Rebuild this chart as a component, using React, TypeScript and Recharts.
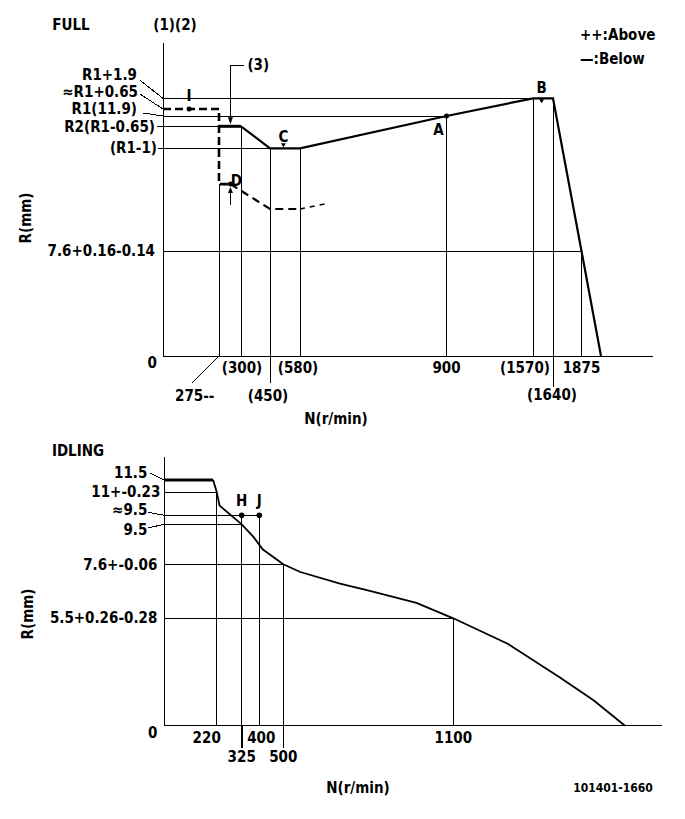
import React from "react";
import { ComposedChart, Line, XAxis, YAxis, ReferenceLine, ReferenceDot } from "recharts";

const FONT = '"DejaVu Sans Condensed", "Liberation Sans Narrow", "DejaVu Sans", sans-serif';
const FS = 15;

// ---------- FULL (upper diagram) ----------
const FULL_N_TICKS = [275, 300, 450, 580, 900, 1570, 1640, 1875];
const FULL_N_LABELS = ["275--", "(300)", "(450)", "(580)", "900", "(1570)", "(1640)", "1875"];
const FULL_R_TICKS = [13.8, 12.55, 11.9, 11.25, 10.9, 7.6, 0];
const FULL_R_LABELS = ["R1+1.9", "≈R1+0.65", "R1(11.9)", "R2(R1-0.65)", "(R1-1)", "7.6+0.16-0.14", "0"];

// solid = Below
const FULL_PLATEAU_N = [275, 300];
const FULL_PLATEAU_R = [11.25, 11.25];
const FULL_BELOW_N = [300, 450, 580, 900, 1570, 1640, 1875, 1950];
const FULL_BELOW_R = [11.25, 10.9, 10.9, 11.9, 13.8, 13.8, 7.6, 0];
// dashed = Above
const FULL_ABOVE_N = [0, 275, 275, 288];
const FULL_ABOVE_R = [12.55, 12.55, 9.75, 9.75];
const FULL_ABOVE2_N = [288, 450, 580];
const FULL_ABOVE2_R = [9.75, 8.95, 8.95];
const FULL_ABOVE3_N = [580, 643];
const FULL_ABOVE3_R = [8.95, 9.14];

// guide lines
const FULL_HGUIDE_R = [13.8, 11.9, 11.25, 10.9, 7.6];
const FULL_HGUIDE_TO = [1570, 900, 275, 450, 1875];
const FULL_VGUIDE_N = [275, 300, 450, 580, 900, 1570, 1640, 1875];
const FULL_VGUIDE_TOP = [9.75, 11.25, 10.9, 10.9, 11.9, 13.8, 13.8, 7.6];

// measuring points
const FULL_PT_NAMES = ["I", "C", "A", "B", "D"];
const FULL_PT_N = [128, 508, 900, 1600, 288];
const FULL_PT_R = [12.55, 10.9, 11.9, 13.8, 9.75];

// ---------- IDLING (lower diagram) ----------
const IDLE_N_TICKS = [220, 325, 400, 500, 1100];
const IDLE_N_LABELS = ["220", "325", "400", "500", "1100"];
const IDLE_R_TICKS = [11.5, 11, 9.8, 9.5, 7.6, 5.5, 0];
const IDLE_R_LABELS = ["11.5", "11+-0.23", "≈9.5", "9.5", "7.6+-0.06", "5.5+0.26-0.28", "0"];

const IDLE_PLATEAU_N = [0, 205];
const IDLE_PLATEAU_R = [11.5, 11.5];
const IDLE_CURVE_N = [205, 220, 232, 325, 375, 415, 500, 560, 700, 795, 970, 1100, 1290, 1470, 1590, 1700];
const IDLE_CURVE_R = [11.5, 11, 10.3, 9.5, 8.9, 8.3, 7.6, 7.3, 6.85, 6.6, 6.1, 5.5, 4.2, 2.5, 1.3, 0];

const IDLE_HGUIDE_R = [11, 9.8, 9.5, 7.6, 5.5];
const IDLE_HGUIDE_TO = [220, 400, 325, 500, 1100];
const IDLE_VGUIDE_N = [220, 325, 400, 500, 1100];
const IDLE_VGUIDE_TOP = [11, 9.8, 9.8, 7.6, 5.5];

const IDLE_PT_NAMES = ["H", "J"];
const IDLE_PT_N = [325, 400];
const IDLE_PT_R = [9.8, 9.8];

// ---------- schematic (not to scale) axes: knots -> plot units ----------
const FULL_N_KNOTS = [0, 275, 300, 450, 580, 900, 1570, 1640, 1875, 1950, 2150];
const FULL_X_AT = [0, 56, 78, 107, 137, 283.5, 370, 390, 418.5, 438, 490];
const FULL_R_KNOTS = [0, 7.6, 10.9, 11.25, 11.9, 12.55, 13.8, 16];
const FULL_Y_AT = [0, 105, 207.7, 229.7, 240, 247, 257.7, 313];

const IDLE_N_KNOTS = [0, 220, 325, 400, 500, 1100, 1700, 1800];
const IDLE_X_AT = [0, 52.4, 77.4, 95, 119, 289, 460.7, 497.7];
const IDLE_R_KNOTS = [0, 5.5, 7.6, 9.5, 9.8, 11, 11.5, 13];
const IDLE_Y_AT = [0, 107.4, 161.4, 201.4, 210.4, 233.7, 245.7, 268.7];

// label placement (offsets from tick position)
const FULL_X_LAYOUT = [
  { dx: -44, dy: 40, anchor: "start", lead: [-27, 27] },
  { dx: 1, dy: 12 },
  { dx: -2, dy: 40, lead: [0, 27] },
  { dx: -2, dy: 12 },
  { dx: 0, dy: 12 },
  { dx: -8, dy: 12 },
  { dx: -1, dy: 39, lead: [0, 31] },
  { dx: 0, dy: 12 },
];
const FULL_Y_LAYOUT = [
  { dx: -26, dy: -23, lead: [-23, -18] },
  { dx: -25, dy: -17, lead: [-23, -15] },
  { dx: -26, dy: -7.5, lead: [-20, -3] },
  { dx: -8, dy: 0.5, lead: [-6, 0] },
  { dx: -6, dy: 0, lead: [-5, 0] },
  { dx: -8, dy: 0 },
  { dx: -6, dy: 7 },
];
const IDLE_X_LAYOUT = [
  { dx: -10, dy: 12 },
  { dx: 0, dy: 31, lead: [0, 22], leadW: 2 },
  { dx: 2, dy: 12 },
  { dx: 0, dy: 31, lead: [0, 22] },
  { dx: 0, dy: 12 },
];
const IDLE_Y_LAYOUT = [
  { dx: -17, dy: -7, lead: [-14, -7] },
  { dx: -4, dy: 0 },
  { dx: -17, dy: -5, lead: [-16, -3] },
  { dx: -17, dy: 6, lead: [-16, 3.5] },
  { dx: -7, dy: 1 },
  { dx: -7, dy: 0 },
  { dx: -7, dy: 7 },
];

function piecewise(from: number[], to: number[]) {
  return (v: number) => {
    let i = 0;
    while (i < from.length - 2 && v > from[i + 1]) i++;
    const t = (v - from[i]) / (from[i + 1] - from[i]);
    return to[i] + t * (to[i + 1] - to[i]);
  };
}

const fx = piecewise(FULL_N_KNOTS, FULL_X_AT);
const fy = piecewise(FULL_R_KNOTS, FULL_Y_AT);
const ix = piecewise(IDLE_N_KNOTS, IDLE_X_AT);
const iy = piecewise(IDLE_R_KNOTS, IDLE_Y_AT);

function toXY(ns: number[], rs: number[], sx: (v: number) => number, sy: (v: number) => number) {
  return ns.map((n, i) => ({ x: sx(n), y: sy(rs[i]) }));
}

const txt = (x: number, y: number, s: string, anchor = "middle", size = FS) => (
  <text x={x} y={y} textAnchor={anchor} dominantBaseline="central" fontFamily={FONT} fontSize={size} fontWeight="bold" fill="#000">
    {s}
  </text>
);

function makeXTick(labels: string[], layout: any[]) {
  return (p: any) => {
    const i = p.index;
    const l = layout[i] || { dx: 0, dy: 12 };
    return (
      <g>
        {l.lead && <line x1={p.x} y1={p.y} x2={p.x + l.lead[0]} y2={p.y + l.lead[1]} stroke="#000" strokeWidth={l.leadW || 1} />}
        {txt(p.x + l.dx, p.y + l.dy, labels[i], l.anchor || "middle")}
      </g>
    );
  };
}

function makeYTick(labels: string[], layout: any[]) {
  return (p: any) => {
    const i = p.index;
    const l = layout[i] || { dx: -6, dy: 0 };
    return (
      <g>
        {l.lead && <line x1={p.x} y1={p.y} x2={p.x + l.lead[0]} y2={p.y + l.lead[1]} stroke="#000" strokeWidth={1} />}
        {txt(p.x + l.dx, p.y + l.dy, labels[i], "end")}
      </g>
    );
  };
}

function fullMarker(name: string) {
  return (p: any) => {
    const { cx, cy } = p;
    if (name === "I") return <g><circle cx={cx} cy={cy} r={2.5} fill="#000" />{txt(cx, cy - 13, "I")}</g>;
    if (name === "A") return <g><circle cx={cx} cy={cy} r={2.5} fill="#000" />{txt(cx - 8, cy + 14, "A")}</g>;
    if (name === "C")
      return <g><path d={`M${cx - 2.5},${cy - 5} L${cx + 2.5},${cy - 5} L${cx},${cy - 1} Z`} fill="#000" />{txt(cx, cy - 11, "C")}</g>;
    if (name === "B")
      return <g><path d={`M${cx - 2.5},${cy + 1} L${cx + 2.5},${cy + 1} L${cx},${cy + 5} Z`} fill="#000" />{txt(cx, cy - 10, "B")}</g>;
    // D with arrow from below
    return (
      <g>
        <circle cx={cx} cy={cy} r={2.5} fill="#000" />
        <line x1={cx} y1={cy + 21} x2={cx} y2={cy + 6} stroke="#000" strokeWidth={1} />
        <path d={`M${cx - 2.5},${cy + 9} L${cx + 2.5},${cy + 9} L${cx},${cy + 3} Z`} fill="#000" />
        {txt(cx + 6, cy - 3, "D")}
      </g>
    );
  };
}

const arrow3 = (p: any) => {
  const { cx, cy } = p;
  return (
    <g>
      <line x1={cx} y1={cy - 61} x2={cx} y2={cy - 6} stroke="#000" strokeWidth={1} />
      <line x1={cx} y1={cy - 61} x2={cx + 14} y2={cy - 61} stroke="#000" strokeWidth={1} />
      <path d={`M${cx - 2.5},${cy - 9} L${cx + 2.5},${cy - 9} L${cx},${cy - 2} Z`} fill="#000" />
      {txt(cx + 17, cy - 61, "(3)", "start")}
    </g>
  );
};

const idleMarker = (name: string) => (p: any) => (
  <g>
    <circle cx={p.cx} cy={p.cy} r={2.8} fill="#000" />
    {txt(p.cx, p.cy - 14, name)}
  </g>
);

function FullChart() {
  return (
    <ComposedChart width={685} height={430} margin={{ top: 43, right: 32, bottom: 54, left: 123 }}>
      <XAxis type="number" dataKey="x" domain={[0, 490]} ticks={FULL_N_TICKS.map(fx)} interval={0} height={20}
        tickLine={false} tickSize={0} tickMargin={0} axisLine={{ stroke: "#000" }} tick={makeXTick(FULL_N_LABELS, FULL_X_LAYOUT)} />
      <YAxis type="number" dataKey="y" domain={[0, 313]} ticks={FULL_R_TICKS.map(fy)} interval={0} width={40}
        tickLine={false} tickSize={0} tickMargin={0} axisLine={{ stroke: "#000" }} tick={makeYTick(FULL_R_LABELS, FULL_Y_LAYOUT)} />
      {FULL_HGUIDE_R.map((r, i) => (
        <ReferenceLine key={"h" + i} segment={[{ x: 0, y: fy(r) }, { x: fx(FULL_HGUIDE_TO[i]), y: fy(r) }]} stroke="#000" strokeWidth={1} ifOverflow="visible" />
      ))}
      {FULL_VGUIDE_N.map((n, i) => (
        <ReferenceLine key={"v" + i} segment={[{ x: fx(n), y: 0 }, { x: fx(n), y: fy(FULL_VGUIDE_TOP[i]) }]} stroke="#000" strokeWidth={1} ifOverflow="visible" />
      ))}
      <Line data={toXY(FULL_ABOVE_N, FULL_ABOVE_R, fx, fy)} dataKey="y" type="linear" stroke="#000" strokeWidth={2.6} strokeDasharray="8 4" dot={false} isAnimationActive={false} />
      <Line data={toXY(FULL_ABOVE2_N, FULL_ABOVE2_R, fx, fy)} dataKey="y" type="linear" stroke="#000" strokeWidth={2.2} strokeDasharray="8 5" dot={false} isAnimationActive={false} />
      <Line data={toXY(FULL_ABOVE3_N, FULL_ABOVE3_R, fx, fy)} dataKey="y" type="linear" stroke="#000" strokeWidth={1.4} strokeDasharray="5 5" dot={false} isAnimationActive={false} />
      <Line data={toXY(FULL_PLATEAU_N, FULL_PLATEAU_R, fx, fy)} dataKey="y" type="linear" stroke="#000" strokeWidth={3} dot={false} isAnimationActive={false} />
      <Line data={toXY(FULL_BELOW_N, FULL_BELOW_R, fx, fy)} dataKey="y" type="linear" stroke="#000" strokeWidth={2.2} dot={false} isAnimationActive={false} />
      <ReferenceDot x={fx(288)} y={fy(11.25)} r={0} shape={arrow3} ifOverflow="visible" />
      {FULL_PT_NAMES.map((name, i) => (
        <ReferenceDot key={name} x={fx(FULL_PT_N[i])} y={fy(FULL_PT_R[i])} r={2.5} shape={fullMarker(name)} ifOverflow="visible" />
      ))}
    </ComposedChart>
  );
}

function IdleChart() {
  return (
    <ComposedChart width={685} height={389} margin={{ top: 27, right: 23, bottom: 73.3, left: 124.3 }}>
      <XAxis type="number" dataKey="x" domain={[0, 497.7]} ticks={IDLE_N_TICKS.map(ix)} interval={0} height={20}
        tickLine={false} tickSize={0} tickMargin={0} axisLine={{ stroke: "#000" }} tick={makeXTick(IDLE_N_LABELS, IDLE_X_LAYOUT)} />
      <YAxis type="number" dataKey="y" domain={[0, 268.7]} ticks={IDLE_R_TICKS.map(iy)} interval={0} width={40}
        tickLine={false} tickSize={0} tickMargin={0} axisLine={{ stroke: "#000" }} tick={makeYTick(IDLE_R_LABELS, IDLE_Y_LAYOUT)} />
      {IDLE_HGUIDE_R.map((r, i) => (
        <ReferenceLine key={"h" + i} segment={[{ x: 0, y: iy(r) }, { x: ix(IDLE_HGUIDE_TO[i]), y: iy(r) }]} stroke="#000" strokeWidth={1} ifOverflow="visible" />
      ))}
      {IDLE_VGUIDE_N.map((n, i) => (
        <ReferenceLine key={"v" + i} segment={[{ x: ix(n), y: 0 }, { x: ix(n), y: iy(IDLE_VGUIDE_TOP[i]) }]} stroke="#000" strokeWidth={1} ifOverflow="visible" />
      ))}
      <Line data={toXY(IDLE_PLATEAU_N, IDLE_PLATEAU_R, ix, iy)} dataKey="y" type="linear" stroke="#000" strokeWidth={3} dot={false} isAnimationActive={false} />
      <Line data={toXY(IDLE_CURVE_N, IDLE_CURVE_R, ix, iy)} dataKey="y" type="linear" stroke="#000" strokeWidth={1.8} dot={false} isAnimationActive={false} />
      {IDLE_PT_NAMES.map((name, i) => (
        <ReferenceDot key={name} x={ix(IDLE_PT_N[i])} y={iy(IDLE_PT_R[i])} r={2.8} shape={idleMarker(name)} ifOverflow="visible" />
      ))}
    </ComposedChart>
  );
}

export default function App() {
  return (
    <div style={{ position: "absolute", left: 0, top: 0, width: 685, height: 819, background: "#fff" }}>
      <style>{"svg line{shape-rendering:crispEdges}"}</style>
      <div style={{ position: "absolute", left: 0, top: 0 }}>
        <FullChart />
      </div>
      <div style={{ position: "absolute", left: 0, top: 430 }}>
        <IdleChart />
      </div>
      <svg width={685} height={819} style={{ position: "absolute", left: 0, top: 0, pointerEvents: "none" }}>
        {txt(71, 25, "FULL")}
        {txt(175, 25, "(1)(2)")}
        {txt(580, 35, "++:Above", "start")}
        {txt(580, 59, "—:Below", "start")}
        {txt(336, 419, "N(r/min)")}
        <g transform="translate(26,218) rotate(-90)">{txt(0, 0, "R(mm)")}</g>
        {txt(78, 451, "IDLING")}
        {txt(358, 788, "N(r/min)")}
        <g transform="translate(28,614) rotate(-90)">{txt(0, 0, "R(mm)")}</g>
        {txt(613, 788, "101401-1660", "middle", 12)}
      </svg>
    </div>
  );
}
